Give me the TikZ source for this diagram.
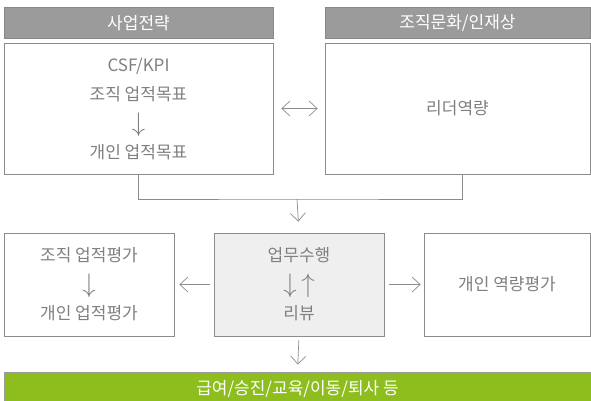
\documentclass[tikz,border=0pt]{standalone}
\usepackage{fontspec}
\setmainfont{Noto Sans CJK KR}
\usepackage{tikz}
\usetikzlibrary{arrows.meta, positioning}
\definecolor{hdrgray}{HTML}{9B9B9B}
\definecolor{hdrline}{HTML}{888888}
\definecolor{txtgray}{HTML}{808080}
\definecolor{linegray}{HTML}{8C8C8C}
\definecolor{workfill}{HTML}{EFEFEF}
\definecolor{paygreen}{HTML}{8DBE1E}
\newcommand{\bigarr}[1]{\raisebox{-2pt}{\scalebox{1.55}{$#1$}}}

\begin{document}
\begin{tikzpicture}[
  x=1pt, y=-1pt,
  font=\fontsize{17}{29}\selectfont,
  hdr/.style={draw=hdrline, fill=hdrgray, text=white, line width=0.8pt, inner sep=0pt, minimum height=31pt},
  box/.style={draw=linegray, fill=white, text=txtgray, line width=0.8pt, align=center, inner sep=0pt},
  arr/.style={-{Straight Barb[length=8pt, width=15pt]}, draw=linegray, line width=0.7pt},
  line/.style={draw=linegray, line width=0.8pt}]
  \useasboundingbox (0,0) rectangle (591,401);
  % headers
  \node[hdr, minimum width=269pt] (hbiz) at (138.5,23) {사업전략};
  \node[hdr, minimum width=265pt] (hcult) at (457.5,23) {조직문화/인재상};
  % top boxes
  \node[box, minimum width=269pt, minimum height=131pt] (bgoal) at (138.5,108.5)
    {CSF/KPI\\조직 업적목표\\\bigarr{\downarrow}\\개인 업적목표};
  \node[box, minimum width=265pt, minimum height=131pt] (blead) at (457.5,108.5) {리더역량};
  % middle row
  \node[box, minimum width=170pt, minimum height=103pt] (beval) at (89,284.5)
    {조직 업적평가\\\bigarr{\downarrow}\\개인 업적평가};
  \node[box, fill=workfill, minimum width=170pt, minimum height=103pt] (bwork) at (299,284.5)
    {업무수행\\\bigarr{\downarrow\hspace{3pt}\uparrow}\\리뷰};
  \node[box, minimum width=166pt, minimum height=103pt] (bcomp) at (507,284.5) {개인 역량평가};
  % result bar
  \node[draw=hdrgray, fill=paygreen, text=white, line width=0.8pt, inner sep=0pt,
        minimum width=587pt, minimum height=33pt] (bpay) at (297.5,388.5) {급여/승진/교육/이동/퇴사 등};
  % connectors
  \coordinate (mid) at (297,199);
  \draw[arr, {Straight Barb[length=8pt, width=15pt]}-{Straight Barb[length=8pt, width=15pt]}, shorten <=8pt, shorten >=7pt] (bgoal.east) -- (blead.west);
  \draw[line] (bgoal.south) |- (mid) -| ([xshift=4.5pt]blead.south);
  \draw[arr, shorten >=11pt] (mid) -- (bwork.north);
  \draw[arr, shorten <=4pt, shorten >=5pt] (bwork.west) -- (beval.east);
  \draw[arr, shorten <=5pt, shorten >=3pt] (bwork.east) -- (bcomp.west);
  \draw[arr, shorten <=4pt, shorten >=7pt] (bwork.south) -- (bpay.north);
\end{tikzpicture}
\end{document}
